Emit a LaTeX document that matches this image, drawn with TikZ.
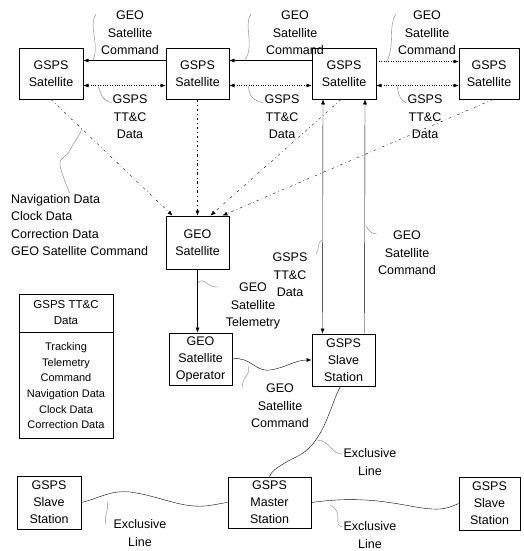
\documentclass[tikz,border=0pt]{standalone}
\usepackage{fontspec}
\setmainfont{Liberation Sans}
\usetikzlibrary{arrows.meta}
\tikzset{
  box/.style={draw, line width=0.9pt, align=center, inner sep=1pt,
    font=\fontsize{12.5}{17}\selectfont},
  lbl/.style={align=center, inner sep=1pt, font=\fontsize{12.5}{17.5}\selectfont},
  lead/.style={gray, thin},
  oneway/.style={-{Latex[length=5pt,width=4pt]}},
  twoway/.style={{Latex[length=5pt,width=4pt]}-{Latex[length=5pt,width=4pt]}},
  satlink/.style={dash pattern=on 2.5pt off 3pt on 0.6pt off 3pt, oneway},
}
\begin{document}
\begin{tikzpicture}[x=1pt,y=-1pt]
  \useasboundingbox (0,0) rectangle (524,551);
  % satellites
  \node[box, minimum width=64pt, minimum height=51pt] (s1) at (51,73.5) {GSPS\\Satellite};
  \node[box, minimum width=63pt, minimum height=51pt] (s2) at (197.5,73.5) {GSPS\\Satellite};
  \node[box, minimum width=64pt, minimum height=51pt] (s3) at (344,73.5) {GSPS\\Satellite};
  \node[box, minimum width=60pt, minimum height=51pt] (s4) at (489,73.5) {GSPS\\Satellite};
  \node[box, minimum width=63pt, minimum height=53pt] (geo) at (197.5,242.5) {GEO\\Satellite};
  % ground
  \node[box, minimum width=63pt, minimum height=52pt] (op) at (200.5,359) {GEO\\Satellite\\Operator};
  \node[box, minimum width=63pt, minimum height=52pt] (slave) at (343.5,360) {GSPS\\Slave\\Station};
  \node[box, minimum width=83pt, minimum height=51pt] (master) at (269.5,502.5) {GSPS\\Master\\Station};
  \node[box, minimum width=64pt, minimum height=53pt] (lslave) at (49,502.5) {GSPS\\Slave\\Station};
  \node[box, minimum width=61pt, minimum height=53pt] (rslave) at (489.5,503.5) {GSPS\\Slave\\Station};
  % legend
  \node[box, line width=0.7pt, minimum width=94pt, minimum height=38pt,
    font=\fontsize{11.5}{16}\selectfont] (legtitle) at (66,313) {GSPS TT\&C\\Data};
  \node[box, line width=0.7pt, minimum width=94pt, minimum height=106pt, anchor=north,
    font=\fontsize{11}{15.6}\selectfont] (legitems) at (legtitle.south)
    {Tracking\\Telemetry\\Command\\Navigation Data\\Clock Data\\Correction Data};
  % labels
  \node[lbl] (c12) at (130,33) {GEO\\Satellite\\Command};
  \node[lbl] (c23) at (295,33) {GEO\\Satellite\\Command};
  \node[lbl] (c34) at (427,33) {GEO\\Satellite\\Command};
  \node[lbl] (t12) at (130,117) {GSPS\\TT\&C\\Data};
  \node[lbl] (t23) at (282,117) {GSPS\\TT\&C\\Data};
  \node[lbl] (t34) at (425,117) {GSPS\\TT\&C\\Data};
  \node[lbl, align=left, anchor=north west] (navtext) at (10,193)
    {Navigation Data\\Clock Data\\Correction Data\\GEO Satellite Command};
  \node[lbl] (tel) at (253,306) {GEO\\Satellite\\Telemetry};
  \node[lbl] (tt) at (290,275) {GSPS\\TT\&C\\Data};
  \node[lbl] (cmd) at (407,253) {GEO\\Satellite\\Command};
  \node[lbl] (opcmd) at (280,406) {GEO\\Satellite\\Command};
  \node[lbl] (ex1) at (370,462) {Exclusive\\Line};
  \node[lbl] (ex2) at (140,533) {Exclusive\\Line};
  \node[lbl] (ex3) at (370,535) {Exclusive\\Line};
  % links between satellites
  \draw[oneway] ([yshift=13pt]s2.west) -- ([yshift=13pt]s1.east);
  \draw[oneway] ([yshift=13pt]s3.west) -- ([yshift=13pt]s2.east);
  \draw[oneway, dotted] ([yshift=12pt]s3.east) -- ([yshift=12pt]s4.west);
  \draw[twoway, dotted] ([yshift=-12pt]s1.east) -- ([yshift=-12pt]s2.west);
  \draw[twoway, dotted] ([yshift=-12pt]s2.east) -- ([yshift=-12pt]s3.west);
  \draw[twoway, dotted] ([yshift=-12pt]s3.east) -- ([yshift=-12pt]s4.west);
  % satellites to GEO
  \draw[satlink] (s1.south) -- ([xshift=-25pt]geo.north);
  \draw[satlink] (s2.south) -- (geo.north);
  \draw[satlink] ([xshift=-3pt]s3.south) -- ([xshift=13pt]geo.north);
  \draw[satlink] ([xshift=4pt]s4.south) -- ([xshift=25pt]geo.north);
  % ground links
  \draw[oneway] (geo.south) -- (geo.south |- op.north);
  \draw[oneway] (op.east) .. controls (250,356) and (255,372) .. (270,370)
    .. controls (285,368) and (295,360) .. (slave.west);
  \draw[twoway] ([xshift=-21pt]s3.south) -- ([xshift=-21pt]slave.north);
  \draw[oneway] ([xshift=21pt]slave.north) -- ([xshift=21pt]s3.south);
  \draw ([xshift=-3pt]slave.south) .. controls (330,405) and (325,440) .. (300,455)
    .. controls (280,465) and (272,470) .. (master.north);
  \draw (lslave.east) .. controls (100,498) and (110,490) .. (130,492)
    .. controls (160,496) and (180,508) .. (205,506)
    .. controls (215,505) and (222,503) .. (master.west);
  \draw (master.east) .. controls (330,500) and (345,499) .. (365,500)
    .. controls (400,502) and (420,510) .. (440,509)
    .. controls (450,508) and (455,505) .. (rslave.west);
  % leaders
  \draw[lead] (96,14) .. controls (88,25) and (100,45) .. (93,60);
  \draw[lead] (251,14) .. controls (243,25) and (255,45) .. (245,60);
  \draw[lead] (396,14) .. controls (388,25) and (395,45) .. (387,61);
  \draw[lead] (98,86) .. controls (101,92) and (100,99) .. ([yshift=-9pt]t12.north west);
  \draw[lead] (248,86) .. controls (250,92) and (248,99) .. ([yshift=-9pt]t23.north west);
  \draw[lead] (397,86) .. controls (399,92) and (397,98) .. ([yshift=-9pt]t34.north west);
  \draw[lead] (navtext.north) ++(-10,0) .. controls (52,150) and (62,165) .. (70,150)
    .. controls (75,140) and (78,138) .. (82,129);
  \draw[lead] (198,283) .. controls (204,276) and (207,288) .. (218,287);
  \draw[lead] (248,366) .. controls (252,375) and (240,378) .. (243,388);
  \draw[lead] (322,240) .. controls (316,244) and (320,250) .. (316,254);
  \draw[lead] (366,226) .. controls (370,232) and (372,234) .. (377,234);
  \draw[lead] (317,440) .. controls (330,440) and (332,455) .. ([yshift=8pt]ex1.west);
  \draw[lead] (107,502) .. controls (110,510) and (103,515) .. (106,524);
  \draw[lead] (330,505) .. controls (345,512) and (332,525) .. ([yshift=8pt]ex3.west);
\end{tikzpicture}
\end{document}
